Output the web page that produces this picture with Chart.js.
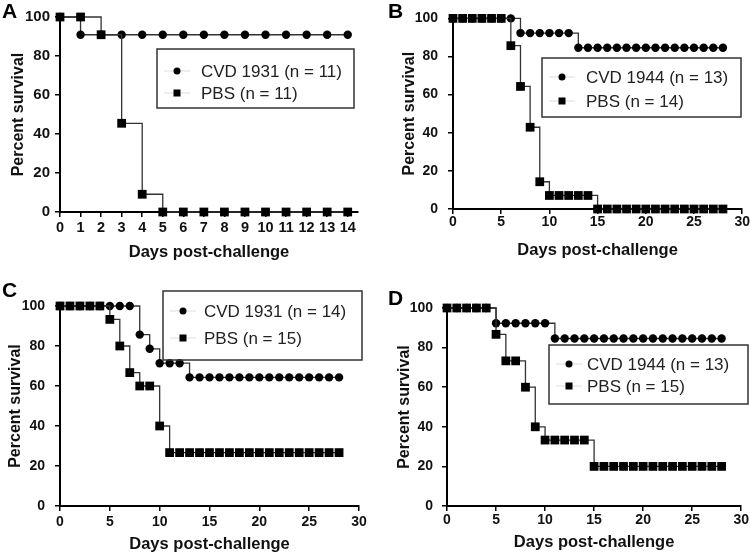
<!DOCTYPE html>
<html lang="en">
<head>
<meta charset="UTF-8">
<title>Percent survival</title>
<script src="https://cdn.jsdelivr.net/npm/chart.js"></script>
<style>
  body { margin: 0; background: #fff; }
  #wrap { position: relative; width: 750px; height: 554px; }
  .panel { position: absolute; width: 375px; height: 277px; }
</style>
</head>
<body>
<div id="wrap">
  <div class="panel" style="left:0;top:0"><canvas id="chartA" width="375" height="277"></canvas></div>
  <div class="panel" style="left:375px;top:0"><canvas id="chartB" width="375" height="277"></canvas></div>
  <div class="panel" style="left:0;top:277px"><canvas id="chartC" width="375" height="277"></canvas></div>
  <div class="panel" style="left:375px;top:277px"><canvas id="chartD" width="375" height="277"></canvas></div>
</div>
<script>
// days
const daysShort = [0, 1, 2, 3, 4, 5, 6, 7, 8, 9, 10, 11, 12, 13, 14];
const daysLong = [0, 1, 2, 3, 4, 5, 6, 7, 8, 9, 10, 11, 12, 13, 14,
  15, 16, 17, 18, 19, 20, 21, 22, 23, 24, 25, 26, 27, 28];

// tick labels
const xTicksShort = [0, 1, 2, 3, 4, 5, 6, 7, 8, 9, 10, 11, 12, 13, 14];
const xTicksLong = [0, 5, 10, 15, 20, 25, 30];
const yTicks = [0, 20, 40, 60, 80, 100];

// panel A
const labelsA = ['CVD 1931 (n = 11)', 'PBS (n = 11)'];
const cvdA = [100, 90.9, 90.9, 90.9, 90.9, 90.9, 90.9, 90.9, 90.9, 90.9, 90.9, 90.9, 90.9, 90.9, 90.9];
const pbsA = [100, 100, 90.9, 45.5, 9.1, 0, 0, 0, 0, 0, 0, 0, 0, 0, 0];

// panel B
const labelsB = ['CVD 1944 (n = 13)', 'PBS (n = 14)'];
const cvdB = [100, 100, 100, 100, 100, 100, 100, 92.3, 92.3, 92.3, 92.3, 92.3, 92.3,
  84.6, 84.6, 84.6, 84.6, 84.6, 84.6, 84.6, 84.6, 84.6, 84.6, 84.6, 84.6, 84.6, 84.6, 84.6, 84.6];
const pbsB = [100, 100, 100, 100, 100, 100, 85.7, 64.3, 42.9, 14.3, 7.1, 7.1, 7.1, 7.1, 7.1,
  0, 0, 0, 0, 0, 0, 0, 0, 0, 0, 0, 0, 0, 0];

// panel C
const labelsC = ['CVD 1931 (n = 14)', 'PBS (n = 15)'];
const cvdC = [100, 100, 100, 100, 100, 100, 100, 100, 85.7, 78.6, 71.4, 71.4, 71.4,
  64.3, 64.3, 64.3, 64.3, 64.3, 64.3, 64.3, 64.3, 64.3, 64.3, 64.3, 64.3, 64.3, 64.3, 64.3, 64.3];
const pbsC = [100, 100, 100, 100, 100, 93.3, 80, 66.7, 60, 60, 40,
  26.7, 26.7, 26.7, 26.7, 26.7, 26.7, 26.7, 26.7, 26.7, 26.7, 26.7, 26.7, 26.7, 26.7, 26.7, 26.7, 26.7, 26.7];

// panel D
const labelsD = ['CVD 1944 (n = 13)', 'PBS (n = 15)'];
const cvdD = [100, 100, 100, 100, 100, 92.3, 92.3, 92.3, 92.3, 92.3, 92.3,
  84.6, 84.6, 84.6, 84.6, 84.6, 84.6, 84.6, 84.6, 84.6, 84.6, 84.6, 84.6, 84.6, 84.6, 84.6, 84.6, 84.6, 84.6];
const pbsD = [100, 100, 100, 100, 100, 86.7, 73.3, 73.3, 60, 40, 33.3, 33.3, 33.3, 33.3, 33.3,
  20, 20, 20, 20, 20, 20, 20, 20, 20, 20, 20, 20, 20, 20];

const FONT = '"Liberation Sans", Arial, sans-serif';

// letter + boxed legend inside the plot
const decor = {
  id: 'decor',
  afterDraw(chart, args, o) {
    const ctx = chart.ctx;
    ctx.save();
    ctx.fillStyle = '#000';
    ctx.font = 'bold 21px ' + FONT;
    ctx.textBaseline = 'alphabetic';
    ctx.fillText(o.letter, o.letterX, o.letterY);

    const b = o.box;
    ctx.strokeStyle = '#333';
    ctx.lineWidth = 1.5;
    ctx.strokeRect(b.x, b.y, b.w, b.h);

    ctx.font = o.legendFont + 'px ' + FONT;
    ctx.textBaseline = 'middle';
    chart.data.datasets.forEach((ds, i) => {
      const y = o.rows[i];
      ctx.strokeStyle = '#ddd';
      ctx.lineWidth = 1;
      ctx.beginPath();
      ctx.moveTo(o.markX - 13, y);
      ctx.lineTo(o.markX + 13, y);
      ctx.stroke();
      ctx.fillStyle = '#000';
      if (ds.pointStyle === 'rect') {
        ctx.fillRect(o.markX - 3.5, y - 3.5, 7, 7);
      } else {
        ctx.beginPath();
        ctx.arc(o.markX, y, 3.5, 0, Math.PI * 2);
        ctx.fill();
      }
      ctx.fillStyle = '#222';
      ctx.fillText(ds.label, o.textX, y + 1);
    });
    ctx.restore();
  }
};

function makePanel(id, p) {
  const pts = (vals) => p.days.map((d, i) => ({ x: d, y: vals[i] }));
  const W = 375, H = 277;
  const axisCommon = {
    grid: { display: true, drawOnChartArea: false, drawTicks: true, tickLength: 5, color: '#000', lineWidth: 1.5 },
    border: { display: true, color: '#000', width: 2 }
  };
  new Chart(document.getElementById(id), {
    type: 'line',
    data: {
      datasets: [
        {
          label: p.labels[0], data: pts(p.cvd), order: 1,
          stepped: 'before', borderColor: '#333', borderWidth: 1.3,
          pointStyle: 'circle', pointRadius: 4.2, pointBackgroundColor: '#000', pointBorderWidth: 0,
          clip: false
        },
        {
          label: p.labels[1], data: pts(p.pbs), order: 0,
          stepped: 'before', borderColor: '#333', borderWidth: 1.3,
          pointStyle: 'rect', pointRadius: 6.2, pointBackgroundColor: '#000', pointBorderWidth: 0,
          clip: false
        }
      ]
    },
    options: {
      responsive: false,
      animation: false,
      devicePixelRatio: 1,
      layout: { padding: { left: 0, top: p.area.top, right: W - p.area.right, bottom: 0 } },
      scales: {
        x: Object.assign({}, axisCommon, {
          type: 'linear', min: 0, max: p.xMax,
          afterFit: (s) => { s.height = H - p.area.bottom; },
          afterBuildTicks: (s) => { s.ticks = p.xTicks.map(v => ({ value: v })); },
          ticks: { color: '#111', padding: p.xPad, maxRotation: 0, font: { family: FONT, size: p.xTickSize, weight: 'bold' } },
          title: { display: true, text: 'Days post-challenge', color: '#111',
            padding: { top: 0, bottom: p.xTitlePad }, font: { family: FONT, size: 16.5, weight: 'bold' } }
        }),
        y: Object.assign({}, axisCommon, {
          type: 'linear', min: 0, max: 100,
          afterFit: (s) => { s.width = p.area.left; },
          afterBuildTicks: (s) => { s.ticks = yTicks.map(v => ({ value: v })); },
          ticks: { color: '#111', padding: p.yPad, font: { family: FONT, size: p.yTickSize, weight: 'bold' } },
          title: { display: true, text: 'Percent survival', color: '#111',
            padding: { top: p.yTitlePad, bottom: 0 }, font: { family: FONT, size: 16, weight: 'bold' } }
        })
      },
      plugins: {
        legend: { display: false },
        tooltip: { enabled: false },
        decor: p.decor
      }
    },
    plugins: [decor]
  });
}

makePanel('chartA', {
  days: daysShort, cvd: cvdA, pbs: pbsA, labels: labelsA,
  xMax: 14.5, xTicks: xTicksShort,
  area: { left: 60, right: 358, top: 17, bottom: 212 },
  xTickSize: 14.5, yTickSize: 15, xPad: 2, yPad: 5, xTitlePad: 15, yTitlePad: 9,
  decor: { letter: 'A', letterX: 2, letterY: 18, box: { x: 157, y: 49, w: 197, h: 59 },
    rows: [71, 93], markX: 177, textX: 201, legendFont: 17 }
});

makePanel('chartB', {
  days: daysLong, cvd: cvdB, pbs: pbsB, labels: labelsB,
  xMax: 30, xTicks: xTicksLong,
  area: { left: 78, right: 368, top: 15, bottom: 209 },
  xTickSize: 14, yTickSize: 14, xPad: 0, yPad: 10, xTitlePad: 17, yTitlePad: 25,
  decor: { letter: 'B', letterX: 13, letterY: 18, box: { x: 167, y: 58, w: 199, h: 59 },
    rows: [77, 101], markX: 187, textX: 211, legendFont: 17 }
});

makePanel('chartC', {
  days: daysLong, cvd: cvdC, pbs: pbsC, labels: labelsC,
  xMax: 30, xTicks: xTicksLong,
  area: { left: 60, right: 359, top: 29, bottom: 229 },
  xTickSize: 14, yTickSize: 14, xPad: 3, yPad: 10, xTitlePad: 0, yTitlePad: 6,
  decor: { letter: 'C', letterX: 2, letterY: 20, box: { x: 163, y: 14, w: 199, h: 69 },
    rows: [34, 61], markX: 183, textX: 204, legendFont: 17 }
});

makePanel('chartD', {
  days: daysLong, cvd: cvdD, pbs: pbsD, labels: labelsD,
  xMax: 30, xTicks: xTicksLong,
  area: { left: 72, right: 369, top: 31, bottom: 229 },
  xTickSize: 14, yTickSize: 14, xPad: 1, yPad: 9, xTitlePad: 2, yTitlePad: 20,
  decor: { letter: 'D', letterX: 13, letterY: 28, box: { x: 174, y: 68, w: 199, h: 59 },
    rows: [87, 109], markX: 194, textX: 212, legendFont: 17 }
});
</script>
</body>
</html>
